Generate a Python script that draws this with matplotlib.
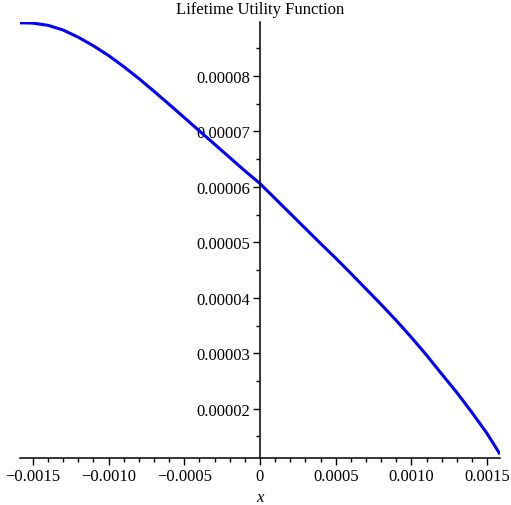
import matplotlib
matplotlib.use("Agg")
import matplotlib.pyplot as plt
from matplotlib.ticker import MultipleLocator, FuncFormatter

# Valores
x_vals = [-0.00158, -0.0015, -0.0014, -0.0013, -0.0012, -0.0011, -0.0010, -0.0009,
          -0.0008, -0.0007, -0.0006, -0.0005, -0.0004, -0.0003, -0.0002, -0.0001,
          0.0, 0.0001, 0.0002, 0.0003, 0.0004, 0.0005, 0.0006, 0.0007, 0.0008,
          0.0009, 0.0010, 0.0011, 0.0012, 0.0013, 0.0014, 0.0015, 0.00158]
u_vals = [8.96e-5, 8.955e-5, 8.915e-5, 8.83e-5, 8.70e-5, 8.545e-5, 8.37e-5, 8.17e-5,
          7.955e-5, 7.725e-5, 7.49e-5, 7.25e-5, 7.01e-5, 6.77e-5, 6.53e-5, 6.29e-5,
          6.06e-5, 5.79e-5, 5.52e-5, 5.25e-5, 4.98e-5, 4.715e-5, 4.44e-5, 4.16e-5, 3.88e-5,
          3.59e-5, 3.285e-5, 2.965e-5, 2.625e-5, 2.29e-5, 1.93e-5, 1.55e-5, 1.20e-5]

plt.rcParams["font.family"] = ["Liberation Serif", "DejaVu Serif"]
plt.rcParams["font.size"] = 12

fig = plt.figure(figsize=(5.11, 5.06), dpi=100)
ax = fig.add_axes([20 / 511, 47 / 506, 480 / 511, 436 / 506])

ax.plot(x_vals, u_vals, color="#0000ff", linewidth=2.2)

ax.set_xlim(-0.001585, 0.001585)
ax.set_ylim(1.11e-5, 8.975e-5)

ax.spines["left"].set_position(("data", 0))
ax.spines["top"].set_visible(False)
ax.spines["right"].set_visible(False)
for s in ("left", "bottom"):
    ax.spines[s].set_linewidth(1.1)

ax.xaxis.set_major_locator(MultipleLocator(0.0005))
ax.xaxis.set_minor_locator(MultipleLocator(0.0001))
ax.yaxis.set_major_locator(MultipleLocator(1e-5))
ax.yaxis.set_minor_locator(MultipleLocator(5e-6))


def fmt_x(v, pos):
    if abs(v) < 1e-12:
        return "0"
    return ("%.4f" % v).replace("-", "\u2212")


def fmt_y(v, pos):
    if abs(v) < 1e-12:
        return "0"
    return "%.5f" % v


ax.xaxis.set_major_formatter(FuncFormatter(fmt_x))
ax.yaxis.set_major_formatter(FuncFormatter(fmt_y))
ax.tick_params(which="major", length=5, width=1.0, pad=2)
ax.tick_params(which="minor", length=3, width=1.0)

# Titulo colocado a mano (arriba del eje vertical)
fig.text(260 / 511, 1 - 10 / 506, "Lifetime Utility Function", fontsize=12,
         ha="center", va="center")
ax.set_xlabel("x", fontstyle="italic", fontsize=12, labelpad=4)

fig.savefig("out.png", dpi=100)
